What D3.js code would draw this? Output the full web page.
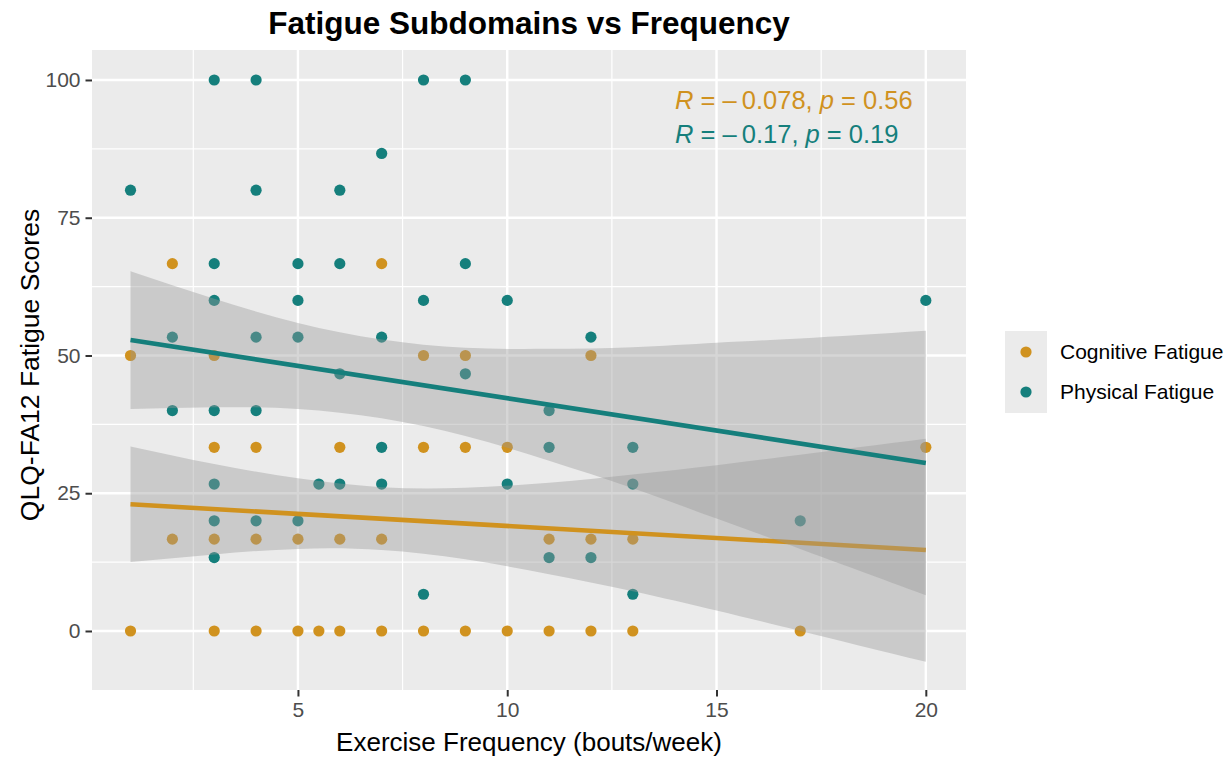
<!DOCTYPE html>
<html><head><meta charset="utf-8">
<script src="https://cdn.jsdelivr.net/npm/d3@7/dist/d3.min.js"></script>
<style>
body{margin:0;background:#fff}
svg text{font-family:"Liberation Sans",Arial,Helvetica,sans-serif}
</style>
</head><body>
<svg id="chart" width="1228" height="757"></svg>
<script>
// ---- data ----
const seriesNames = ["Cognitive Fatigue", "Physical Fatigue"];
const seriesColors = ["#D0921F", "#157F7C"];

const cognitiveX = [1,1,2,2,3,3,3,3,4,4,4,5,5,5.5,6,6,6,7,7,7,8,8,8,9,9,9,10,10,11,11,12,12,12,13,13,17,20];
const cognitiveY = [0,50,66.67,16.67,50,33.33,16.67,0,33.33,16.67,0,16.67,0,0,33.33,16.67,0,66.67,16.67,0,50,33.33,0,50,33.33,0,33.33,0,16.67,0,50,16.67,0,16.67,0,0,33.33];

const physicalX = [1,2,2,3,3,3,3,3,3,3,4,4,4,4,4,5,5,5,5,5.5,6,6,6,6,7,7,7,7,8,8,8,9,9,9,10,10,11,11,11,12,12,13,13,13,17,20];
const physicalY = [80,53.33,40,100,66.67,60,40,26.67,20,13.33,100,80,53.33,40,20,66.67,60,53.33,20,26.67,80,66.67,46.67,26.67,86.67,53.33,33.33,26.67,100,60,6.67,100,66.67,46.67,60,26.67,40,33.33,13.33,53.33,13.33,33.33,26.67,6.67,20,60];

// fitted lines (endpoints) and confidence bands
const fitX = [1, 20];
const cognitiveFit = [23.0, 14.7];
const physicalFit = [52.8, 30.5];

const bandX = [1, 3, 5, 7, 9, 11, 13, 15, 17, 20];
const cognitiveUpper = [33.5, 30.3, 27.7, 26.1, 26.0, 26.9, 28.4, 30.1, 32.0, 34.9];
const cognitiveLower = [12.5, 13.9, 14.9, 14.7, 13.0, 10.3, 7.2, 3.7, 0.0, -5.6];
const physicalUpper = [65.3, 60.3, 55.9, 52.9, 51.4, 51.2, 51.5, 52.3, 53.1, 54.5];
const physicalLower = [40.3, 40.6, 40.3, 38.6, 35.4, 30.9, 25.9, 20.4, 14.9, 6.5];

const statLabels = [
  {R: "0.078", p: "0.56"},
  {R: "0.17", p: "0.19"}
];

const xTicks = [5, 10, 15, 20];
const xMinor = [2.5, 7.5, 12.5, 17.5];
const yTicks = [0, 25, 50, 75, 100];
const yMinor = [12.5, 37.5, 62.5, 87.5];

const titleText = "Fatigue Subdomains vs Frequency";
const xTitle = "Exercise Frequency (bouts/week)";
const yTitle = "QLQ-FA12 Fatigue Scores";

// ---- drawing ----
const svg = d3.select("#chart");
const P = {left: 92, right: 966, top: 50, bottom: 690};

const x = d3.scaleLinear().domain([0.08, 20.96]).range([P.left, P.right]);
const y = d3.scaleLinear().domain([-10.71, 105.44]).range([P.bottom, P.top]);

svg.append("rect").attr("width", 1228).attr("height", 757).attr("fill", "#fff");
svg.append("rect").attr("x", P.left).attr("y", P.top)
  .attr("width", P.right - P.left).attr("height", P.bottom - P.top).attr("fill", "#EBEBEB");

const grid = svg.append("g");
grid.selectAll(".vmin").data(xMinor).join("line")
  .attr("x1", d => x(d)).attr("x2", d => x(d)).attr("y1", P.top).attr("y2", P.bottom)
  .attr("stroke", "#fff").attr("stroke-width", 1.2);
grid.selectAll(".hmin").data(yMinor).join("line")
  .attr("y1", d => y(d)).attr("y2", d => y(d)).attr("x1", P.left).attr("x2", P.right)
  .attr("stroke", "#fff").attr("stroke-width", 1.2);
grid.selectAll(".vmaj").data(xTicks).join("line")
  .attr("x1", d => x(d)).attr("x2", d => x(d)).attr("y1", P.top).attr("y2", P.bottom)
  .attr("stroke", "#fff").attr("stroke-width", 2.4);
grid.selectAll(".hmaj").data(yTicks).join("line")
  .attr("y1", d => y(d)).attr("y2", d => y(d)).attr("x1", P.left).attr("x2", P.right)
  .attr("stroke", "#fff").attr("stroke-width", 2.4);

// points
const cogPts = cognitiveX.map((v, i) => ({x: v, y: cognitiveY[i]}));
const phyPts = physicalX.map((v, i) => ({x: v, y: physicalY[i]}));
const pts = svg.append("g");
pts.selectAll(".pc").data(cogPts).join("circle")
  .attr("cx", d => x(d.x)).attr("cy", d => y(d.y)).attr("r", 5.6).attr("fill", seriesColors[0]);
pts.selectAll(".pp").data(phyPts).join("circle")
  .attr("cx", d => x(d.x)).attr("cy", d => y(d.y)).attr("r", 5.6).attr("fill", seriesColors[1]);

// smooths: ribbon then line for each group
const area = d3.area().x(d => x(d.x)).y0(d => y(d.lo)).y1(d => y(d.hi)).curve(d3.curveNatural);
const line = d3.line().x(d => x(d.x)).y(d => y(d.y));
const groups = [
  {upper: cognitiveUpper, lower: cognitiveLower, fit: cognitiveFit, color: seriesColors[0]},
  {upper: physicalUpper, lower: physicalLower, fit: physicalFit, color: seriesColors[1]}
];
groups.forEach(g => {
  const band = bandX.map((v, i) => ({x: v, lo: g.lower[i], hi: g.upper[i]}));
  svg.append("path").attr("d", area(band)).attr("fill", "#999999").attr("fill-opacity", 0.4);
  const fl = fitX.map((v, i) => ({x: v, y: g.fit[i]}));
  svg.append("path").attr("d", line(fl)).attr("fill", "none")
    .attr("stroke", g.color).attr("stroke-width", 4.6);
});

// correlation labels
statLabels.forEach((s, i) => {
  const t = svg.append("text").attr("x", 675).attr("y", 109 + i * 34)
    .attr("fill", seriesColors[i]).attr("font-size", 25.5);
  t.append("tspan").attr("font-style", "italic").text("R");
  t.append("tspan").text(" = –\u2009" + s.R + ", ");
  t.append("tspan").attr("font-style", "italic").text("p");
  t.append("tspan").text(" = " + s.p);
});

// axes
const xAxis = svg.append("g").attr("transform", `translate(0,${P.bottom})`)
  .call(d3.axisBottom(x).tickValues(xTicks).tickSize(6.5).tickPadding(6).tickFormat(d3.format("d")));
const yAxis = svg.append("g").attr("transform", `translate(${P.left},0)`)
  .call(d3.axisLeft(y).tickValues(yTicks).tickSize(6.5).tickPadding(5).tickFormat(d3.format("d")));
[xAxis, yAxis].forEach(a => {
  a.select(".domain").remove();
  a.selectAll(".tick line").attr("stroke", "#333333").attr("stroke-width", 2);
  a.selectAll(".tick text").attr("fill", "#4D4D4D").attr("font-size", 21)
    .attr("font-family", "Liberation Sans, Arial, sans-serif");
});

// titles
svg.append("text").attr("x", (P.left + P.right) / 2).attr("y", 34)
  .attr("text-anchor", "middle").attr("font-size", 31.5).attr("font-weight", "bold")
  .attr("fill", "#000").text(titleText);
svg.append("text").attr("x", (P.left + P.right) / 2).attr("y", 751)
  .attr("text-anchor", "middle").attr("font-size", 26).attr("fill", "#000").text(xTitle);
svg.append("text").attr("transform", `translate(39,${(P.top + P.bottom) / 2 - 5}) rotate(-90)`)
  .attr("text-anchor", "middle").attr("font-size", 26.5).attr("fill", "#000").text(yTitle);

// legend
const lg = svg.append("g");
lg.append("rect").attr("x", 1005).attr("y", 331).attr("width", 42).attr("height", 82).attr("fill", "#EBEBEB");
seriesNames.forEach((n, i) => {
  lg.append("circle").attr("cx", 1026).attr("cy", 352 + i * 40).attr("r", 5.6).attr("fill", seriesColors[i]);
  lg.append("text").attr("x", 1060).attr("y", 352 + i * 40).attr("dy", "0.35em")
    .attr("font-size", 21).attr("fill", "#000").text(n);
});
</script>
</body></html>
